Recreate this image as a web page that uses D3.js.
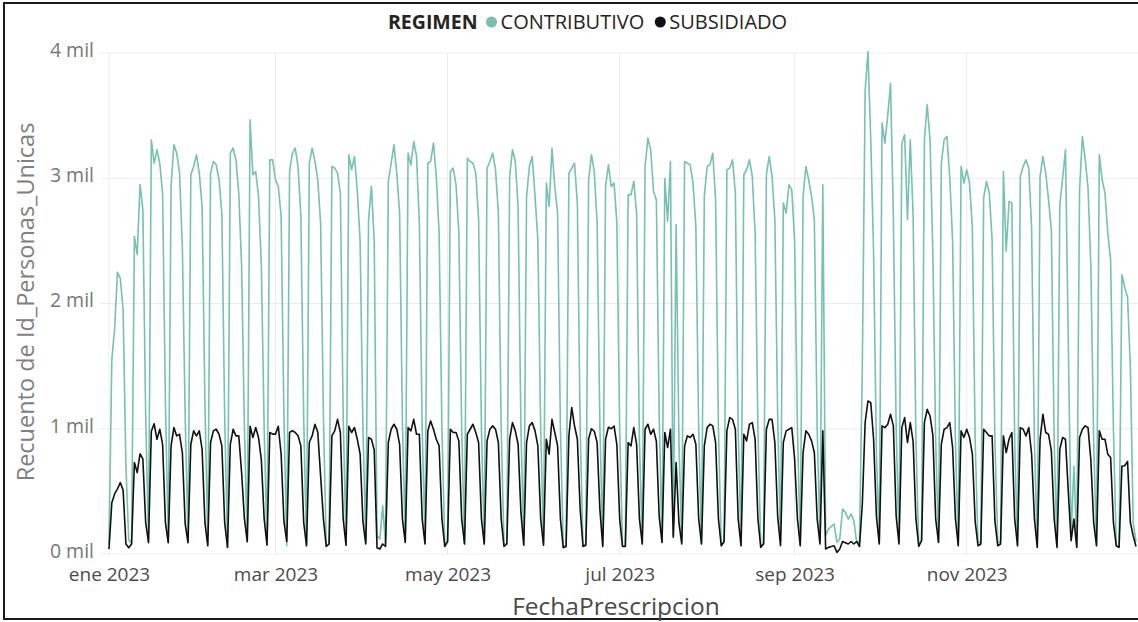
<!DOCTYPE html>
<html><head><meta charset="utf-8">
<script src="https://cdn.jsdelivr.net/npm/d3@7"></script>
<style>
html,body{margin:0;padding:0;background:#fff;}
svg{display:block;font-family:"Open Sans","Noto Sans",sans-serif;}
</style></head>
<body><svg id="c" width="1138" height="622"></svg>
<script>
// ---- data (daily, 2023-01-01 .. 2023-12-31), one row per week Sun..Sat ----
const startDate = "2023-01-01";
const endDate = "2023-12-31";
const seriesNames = ["CONTRIBUTIVO", "SUBSIDIADO"];
const legendTitle = "REGIMEN";
const yTicks = [0, 1000, 2000, 3000, 4000];
const xTickLabels = ["ene 2023", "mar 2023", "may 2023", "jul 2023", "sep 2023", "nov 2023"];
const xTickDates = ["2023-01-01", "2023-03-01", "2023-05-01", "2023-07-01", "2023-09-01", "2023-11-01"];
const xTitle = "FechaPrescripcion";
const yTitle = "Recuento de Id_Personas_Unicas";

const contributivo = [
  80,1550,1800,2250,2200,1950,700,
  110,90,2536,2390,2950,2750,1100,
  110,3307,3120,3227,3120,2880,1200,
  93,2935,3267,3200,3041,2450,1100,
  93,3028,3094,3187,3041,2775,1200,
  66,3041,3134,3107,2988,2722,1100,
  53,3200,3240,3147,2880,2300,1000,
  93,3466,3028,3054,2855,2300,1000,
  93,3147,3147,2988,2935,2700,1100,
  66,3054,3200,3240,3094,2700,1100,
  66,3120,3240,3134,2988,2640,1100,
  66,80,3094,3081,3041,2882,1100,
  70,3187,3068,3174,2900,2500,1000,
  93,2670,2935,2500,146,120,385,
  80,2975,3120,3267,3041,2722,1050,
  93,3200,3107,3293,3174,2643,1000,
  93,3120,3134,3280,3015,2563,1000,
  93,93,3054,3081,2948,2563,1000,
  80,3160,3134,3120,3041,2670,1000,
  80,3081,3134,3200,3068,2722,1000,
  80,80,3015,3227,3134,2770,1000,
  80,2855,3094,3174,2855,2510,1000,
  80,2961,2776,3240,2935,2722,1000,
  66,66,3041,3080,3120,2800,1000,
  66,80,2988,3187,3054,2643,1000,
  66,2935,3107,2935,2961,2650,1000,
  66,66,2868,2868,2975,2722,900,
  80,3094,3320,3227,2895,2829,1100,
  93,2998,2656,3134,150,2630,900,
  93,3134,3120,3107,2961,2616,1000,
  80,2855,3094,3107,3200,2829,1000,
  66,93,3068,3081,3147,2882,1000,
  66,3028,3068,3147,3015,2563,1000,
  66,80,3028,3174,3015,2670,1100,
  93,2802,2722,2948,2908,2500,1000,
  66,2855,3094,2988,2855,2670,1000,
  93,2948,146,199,220,239,93,
  120,359,332,279,319,266,93,
  100,1500,3700,4010,3300,2400,800,
  93,3440,3280,3500,3758,2700,1000,
  93,3280,3347,2670,3307,2700,900,
  80,106,3307,3586,3307,2400,900,
  93,3120,3307,3333,3000,2500,900,
  66,3094,2961,3068,2961,2600,900,
  93,93,2842,2975,2882,2510,900,
  93,93,3054,2417,2815,2802,900,
  66,3015,3094,3147,3081,2600,900,
  66,3015,3174,3041,2829,2590,900,
  66,2789,3000,3227,1700,146,700,
  66,2908,3333,3150,2922,2300,900,
  66,3187,2988,2882,2563,2350,1000,
  66,53,2230,2130,2050,1500,250,
  100
];

const subsidiado = [
  40,410,480,520,570,510,80,
  50,80,730,650,800,760,250,
  90,980,1040,916,996,876,250,
  90,863,1009,943,956,810,240,
  90,876,983,943,983,836,250,
  66,890,983,996,956,863,250,
  53,876,996,943,943,650,280,
  100,1020,930,1010,930,750,280,
  70,970,957,957,1020,800,260,
  100,970,985,970,944,863,255,
  66,892,943,1036,972,624,279,
  60,80,943,983,1075,970,280,
  70,1020,970,1010,916,800,260,
  80,930,916,830,50,40,80,
  60,890,996,1036,996,876,280,
  93,1009,983,1075,956,956,280,
  80,983,1062,996,916,863,280,
  60,100,996,970,970,903,280,
  80,956,996,1036,970,890,280,
  80,903,996,1023,996,890,280,
  60,80,916,1049,983,876,330,
  70,890,1023,1049,983,863,280,
  70,916,797,1075,970,863,280,
  50,60,943,1170,1022,916,358,
  60,70,920,1000,980,890,350,
  60,916,1012,1000,1022,873,280,
  60,60,890,863,1009,876,280,
  80,996,1036,956,996,900,300,
  93,970,850,996,133,730,250,
  80,863,943,930,956,876,280,
  80,863,1009,1036,1023,890,280,
  66,100,983,1089,1075,996,280,
  66,956,903,1036,1049,916,280,
  53,80,996,1075,1075,890,300,
  66,890,983,996,1009,760,280,
  66,810,983,956,903,810,280,
  80,983,40,53,60,66,13,
  40,100,90,80,100,80,100,
  60,400,1050,1222,1208,916,300,
  80,1023,1009,1036,1116,1023,300,
  80,1009,1089,890,1049,900,280,
  60,106,1049,1155,1102,950,280,
  93,876,996,1009,1049,850,280,
  66,983,930,996,930,800,260,
  66,80,996,970,943,943,260,
  66,80,943,810,916,970,280,
  66,1009,996,943,1009,800,280,
  53,916,1116,970,956,823,280,
  53,837,930,916,500,106,279,
  53,930,996,1023,1009,750,250,
  66,983,916,916,797,770,250,
  66,53,700,705,740,252,146,
  60
];

const colors = ["#76c1af", "#111111"];

// ---- chart ----
const svg = d3.select("#c");
const parse = d3.utcParse("%Y-%m-%d");
const d0 = parse(startDate), d1 = parse(endDate);

const x = d3.scaleUtc().domain([d0, d1]).range([109, 1136]);
const y = d3.scaleLinear().domain([0, 4000]).range([554, 53]);

// frame
svg.append("rect").attr("x", 4).attr("y", 3).attr("width", 1150).attr("height", 616)
  .attr("fill", "none").attr("stroke", "#1a1a1a").attr("stroke-width", 2);

// gridlines
const grid = svg.append("g");
grid.selectAll("line.h").data(yTicks).join("line")
  .attr("x1", 100).attr("x2", 1138)
  .attr("y1", d => y(d)).attr("y2", d => y(d))
  .attr("stroke", "#ececec").attr("stroke-width", 1);
grid.selectAll("line.v").data(xTickDates).join("line")
  .attr("x1", d => x(parse(d))).attr("x2", d => x(parse(d)))
  .attr("y1", 53).attr("y2", 554)
  .attr("stroke", "#ececec").attr("stroke-width", 1);

// y axis
const yAxis = d3.axisLeft(y).tickValues(yTicks).tickSize(0).tickPadding(0)
  .tickFormat(d => (d / 1000) + " mil");
const gy = svg.append("g").attr("transform", "translate(94,-3)").call(yAxis);
gy.select(".domain").remove();
gy.selectAll("text").attr("font-size", 19.5).attr("fill", "#777").attr("font-family", "Open Sans");

// x axis
const xAxis = d3.axisBottom(x).tickValues(xTickDates.map(parse)).tickSize(0).tickPadding(0)
  .tickFormat((d, i) => xTickLabels[i]);
const gx = svg.append("g").attr("transform", "translate(0,567)").call(xAxis);
gx.select(".domain").remove();
gx.selectAll("text").attr("font-size", 19).attr("fill", "#4a4a4a").attr("font-family", "Open Sans");

// titles
svg.append("text").attr("x", 616).attr("y", 615).attr("text-anchor", "middle")
  .attr("font-size", 24.5).attr("fill", "#4a4a4a").text(xTitle);
svg.append("text").attr("transform", "translate(34,302) rotate(-90)").attr("text-anchor", "middle")
  .attr("font-size", 23.5).attr("fill", "#808080").text(yTitle);

// lines
const dates = d3.range(contributivo.length).map(i => d3.utcDay.offset(d0, i));
const line = d3.line().x((d, i) => x(dates[i])).y(d => y(d));
[contributivo, subsidiado].forEach((s, k) => {
  svg.append("path").datum(s).attr("d", line).attr("fill", "none")
    .attr("stroke", colors[k]).attr("stroke-width", 1.6).attr("stroke-linejoin", "round");
});

// legend
const lg = svg.append("g").attr("transform", "translate(0,22)");
const t0 = lg.append("text").attr("x", 388).attr("y", 7).attr("font-size", 19.5)
  .attr("font-weight", "bold").attr("fill", "#252423").text(legendTitle);
let lx = 388 + t0.node().getComputedTextLength() + 14;
seriesNames.forEach((n, k) => {
  lg.append("circle").attr("cx", lx).attr("cy", 0).attr("r", 5.5).attr("fill", colors[k]);
  const t = lg.append("text").attr("x", lx + 9).attr("y", 7).attr("font-size", 20)
    .attr("fill", "#252423").text(n);
  lx += 9 + t.node().getComputedTextLength() + 16;
});
</script>
</body></html>
